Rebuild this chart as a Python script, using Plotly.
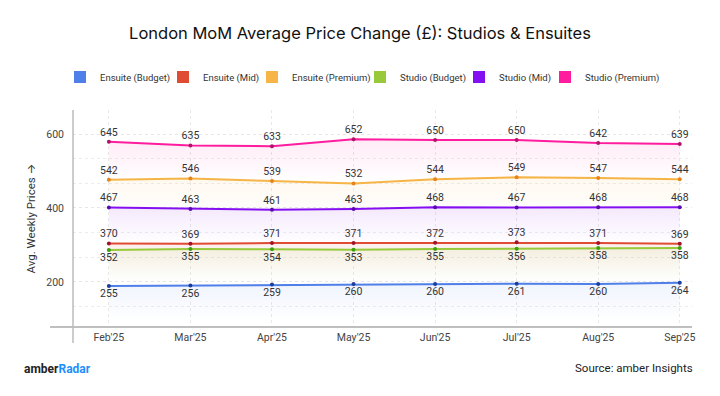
import plotly.graph_objects as go

months = ["Feb'25", "Mar'25", "Apr'25", "May'25", "Jun'25", "Jul'25", "Aug'25", "Sep'25"]

ensuite_budget = [255, 256, 259, 260, 260, 261, 260, 264]
ensuite_mid = [370, 369, 371, 371, 372, 373, 371, 369]
ensuite_premium = [542, 546, 539, 532, 544, 549, 547, 544]
studio_budget = [352, 355, 354, 353, 355, 356, 358, 358]
studio_mid = [467, 463, 461, 463, 468, 467, 468, 468]
studio_premium = [645, 635, 633, 652, 650, 650, 642, 639]

y_tick_labels = [200, 400, 600]
TICK_SHIFT = 66  # the reference's tick labels sit offset from the plotted values
Y_RANGE = [144, 731]

series = [
    ("Ensuite (Budget)", ensuite_budget, "#4F7FE8", "#1B3E9C", "bottom center", (79, 127, 232)),
    ("Ensuite (Mid)", ensuite_mid, "#E04B33", "#A3122B", "top center", (224, 75, 51)),
    ("Ensuite (Premium)", ensuite_premium, "#F6B546", "#E8841A", "top center", (246, 181, 70)),
    ("Studio (Budget)", studio_budget, "#97C93A", "#3C9E12", "bottom center", (151, 201, 58)),
    ("Studio (Mid)", studio_mid, "#8410F2", "#5A0AB0", "top center", (132, 16, 242)),
    ("Studio (Premium)", studio_premium, "#FF1C9E", "#B3126A", "top center", (255, 28, 158)),
]

# left edge (px) of each legend entry in the header row
LEGEND_X = [60, 163, 252, 360, 459, 545]
LEGEND_Y_PX = 77

fig = go.Figure()

for name, vals, color, mcolor, tpos, rgb in series:
    r, g, b = rgb
    fig.add_trace(go.Scatter(
        x=months, y=vals, name=name, mode="lines+markers+text",
        line=dict(color=color, width=2),
        marker=dict(color=mcolor, size=4),
        text=[str(v) for v in vals], textposition=tpos,
        textfont=dict(family="Roboto, Inter, sans-serif", size=10.5, color="#333333"),
        fill="tozeroy",
        fillgradient=dict(
            type="vertical",
            start=min(vals) - 95, stop=max(vals),
            colorscale=[[0, f"rgba({r},{g},{b},0)"], [1, f"rgba({r},{g},{b},0.09)"]],
        ),
        showlegend=False, cliponaxis=False, hoverinfo="skip",
    ))

legend_layouts = {}
for i, (name, vals, color, mcolor, tpos, rgb) in enumerate(series):
    key = "legend" if i == 0 else f"legend{i + 1}"
    fig.add_trace(go.Scatter(
        x=[None], y=[None], name=name, mode="markers",
        marker=dict(color=color, size=12, symbol="square", line=dict(width=0)),
        showlegend=True, legend=key,
    ))
    legend_layouts[key] = dict(
        orientation="h", x=LEGEND_X[i] / 720, xref="container", xanchor="left",
        y=1 - LEGEND_Y_PX / 396, yref="container", yanchor="middle",
        font=dict(size=9.5, color="#333333", family="Roboto, sans-serif"),
        itemwidth=30, itemclick=False, itemdoubleclick=False,
        bgcolor="rgba(0,0,0,0)",
    )

fig.update_layout(
    width=720, height=396,
    margin=dict(l=73, r=28, t=110, b=69, autoexpand=False),
    paper_bgcolor="white", plot_bgcolor="white",
    font=dict(family="Roboto, Inter, sans-serif", color="#333333"),
    title=dict(
        text="London MoM Average Price Change (£): Studios & Ensuites",
        x=0.5, xanchor="center", y=1 - 33 / 396, yanchor="middle",
        font=dict(size=16.5, color="#111111", family="Inter, Roboto, sans-serif"),
    ),
    xaxis=dict(
        type="category", range=[-0.44, 7.15],
        showline=False, zeroline=False,
        showgrid=True, gridcolor="#e8e8e8", griddash="dot", gridwidth=1,
        tickfont=dict(size=10.5, color="#444444"),
        ticks="", ticklabelstandoff=2, tickangle=0,
    ),
    yaxis=dict(
        range=Y_RANGE,
        tickvals=[v + TICK_SHIFT for v in y_tick_labels],
        ticktext=[str(v) for v in y_tick_labels],
        showline=False, zeroline=False,
        showgrid=True, gridcolor="#e6e6e6", griddash="dot", gridwidth=1,
        minor=dict(dtick=200 / 3, tick0=y_tick_labels[0] + TICK_SHIFT,
                   showgrid=True, gridcolor="#ececec", griddash="dot"),
        tickfont=dict(size=10.5, color="#444444"),
        ticks="", ticklabelstandoff=8,
        title=dict(text="Avg. Weekly Prices →", font=dict(size=11.5, color="#333333"), standoff=8),
    ),
    shapes=[
        dict(type="line", xref="paper", yref="paper", x0=-0.037, x1=1, y0=0, y1=0,
             line=dict(color="#aaaaaa", width=1.3)),
        dict(type="line", xref="paper", yref="paper", x0=0, x1=0, y0=-0.074, y1=1,
             line=dict(color="#bbbbbb", width=1.5)),
    ],
    annotations=[
        dict(text="<b>amber</b><b><span style='color:#1E8FFF'>Radar</span></b>",
             xref="paper", yref="paper", x=-0.0824, y=-0.1935,
             xanchor="left", yanchor="middle", showarrow=False,
             font=dict(size=12, color="#222222")),
        dict(text="Source: amber Insights",
             xref="paper", yref="paper", x=1.0048, y=-0.189,
             xanchor="right", yanchor="middle", showarrow=False,
             font=dict(size=11.5, color="#222222")),
    ],
    **legend_layouts,
)

fig.write_html("out.html", config={"displayModeBar": False},
               post_script="document.body.style.margin='0';")
